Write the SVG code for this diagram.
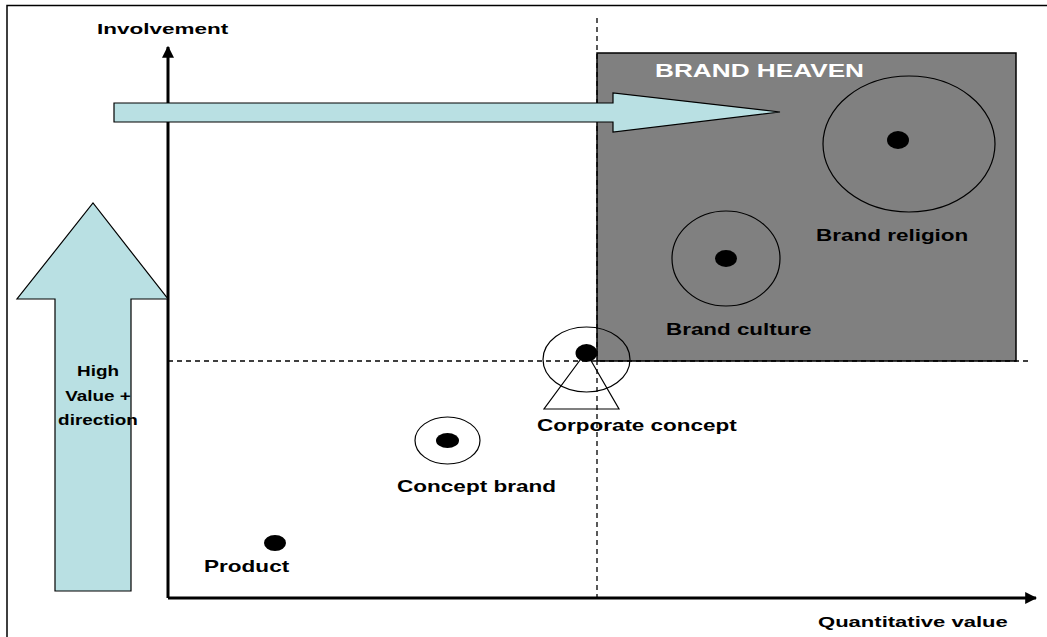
<svg xmlns="http://www.w3.org/2000/svg" width="1047" height="637" viewBox="0 0 1047 637">
<defs>
<style>
.lbl{font-family:"Liberation Sans",Arial,sans-serif;font-weight:bold;font-size:16px;fill:#000}
.dash{stroke:#000;stroke-width:1.3;stroke-dasharray:5,4;fill:none}
.ring{fill:none;stroke:#000;stroke-width:1.2}
.dot{fill:#000}
.big{fill:#B9E0E3;stroke:#000;stroke-width:1.2}
</style>
<marker id="ah" viewBox="0 0 10 10" refX="9" refY="5" markerWidth="4" markerHeight="4" orient="auto" markerUnits="strokeWidth">
<path d="M0,0 L10,5 L0,10 z" fill="#000"/>
</marker>
</defs>
<rect x="0" y="0" width="1047" height="637" fill="#fff"/>
<rect x="7" y="5.5" width="1060" height="660" fill="none" stroke="#000" stroke-width="1.5"/>

<g id="brand-heaven">
<rect x="597" y="53" width="419" height="308" fill="#808080" stroke="#000" stroke-width="1.5"/>
<text transform="matrix(1.455 0 0 1 655 77)" class="lbl" style="font-size:18px;fill:#fff">BRAND HEAVEN</text>
</g>

<g id="connectors">
<line x1="597" y1="18" x2="597" y2="597" class="dash"/>
<line x1="168" y1="361" x2="1028" y2="361" class="dash"/>
<line x1="168" y1="598" x2="168" y2="47" stroke="#000" stroke-width="3" marker-end="url(#ah)"/>
<line x1="168" y1="598" x2="1036" y2="598" stroke="#000" stroke-width="3" marker-end="url(#ah)"/>
</g>

<g id="axis-labels">
<text transform="matrix(1.5 0 0 1 97 34)" class="lbl" style="font-size:15px">Involvement</text>
<text transform="matrix(1.47 0 0 1 818 627)" class="lbl" style="font-size:15px">Quantitative value</text>
</g>

<g id="arrow-right">
<path class="big" d="M114,103 L613,103 L613,93 L780,112 L613,132 L613,122 L114,122 Z"/>
</g>

<g id="arrow-up">
<path class="big" d="M55,591 L55,299 L17,299 L93,203 L168,299 L131,299 L131,591 Z"/>
<text transform="matrix(1.35 0 0 1 98 376)" class="lbl" text-anchor="middle" style="font-size:14px">High</text>
<text transform="matrix(1.35 0 0 1 98 401)" class="lbl" text-anchor="middle" style="font-size:14px">Value +</text>
<text transform="matrix(1.35 0 0 1 98 425)" class="lbl" text-anchor="middle" style="font-size:14px">direction</text>
</g>

<g id="brand-religion">
<ellipse class="ring" cx="909" cy="144" rx="86" ry="68"/>
<ellipse class="dot" cx="898" cy="140" rx="11" ry="9"/>
<text transform="matrix(1.405 0 0 1 816 241)" class="lbl">Brand religion</text>
</g>

<g id="brand-culture">
<ellipse class="ring" cx="726" cy="258.5" rx="54" ry="47.5"/>
<ellipse class="dot" cx="726" cy="258.5" rx="11" ry="8.5"/>
<text transform="matrix(1.40 0 0 1 666 335)" class="lbl">Brand culture</text>
</g>

<g id="corporate-concept">
<path d="M586,352 L544,409 L619,409 Z" fill="none" stroke="#000" stroke-width="1.2"/>
<ellipse class="ring" cx="586.5" cy="359.5" rx="43.5" ry="32.5"/>
<ellipse class="dot" cx="586.5" cy="353" rx="11" ry="9"/>
<text transform="matrix(1.405 0 0 1 537 431)" class="lbl">Corporate concept</text>
</g>

<g id="concept-brand">
<ellipse class="ring" cx="447.5" cy="440.5" rx="32.5" ry="23.5"/>
<ellipse class="dot" cx="447.5" cy="440.5" rx="11.5" ry="7.5"/>
<text transform="matrix(1.41 0 0 1 397 492)" class="lbl">Concept brand</text>
</g>

<g id="product">
<ellipse class="dot" cx="275" cy="543" rx="11" ry="8"/>
<text transform="matrix(1.41 0 0 1 204 572)" class="lbl">Product</text>
</g>
</svg>
